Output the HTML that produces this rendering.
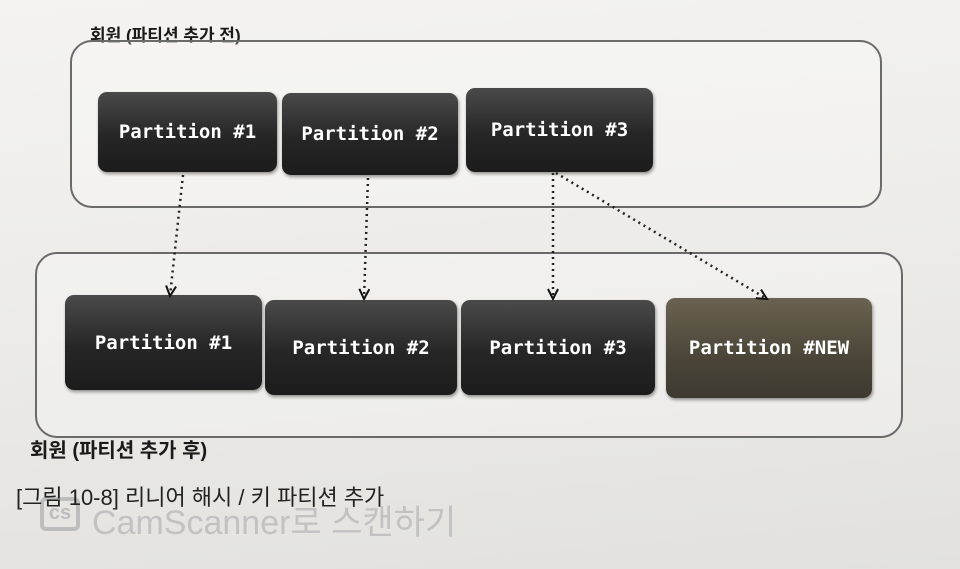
<!DOCTYPE html>
<html><head><meta charset="utf-8"><style>
body{margin:0;width:960px;height:569px;overflow:hidden;background:linear-gradient(175deg,#f4f3f1 0%,#ecebe8 50%,#e2e1de 100%);font-family:"Liberation Sans","Noto Sans CJK KR",sans-serif;position:relative}
.box{position:absolute;border:2px solid #6a6a6a;border-radius:22px;background:rgba(255,255,255,0.25)}
.p{position:absolute;border-radius:9px;background:linear-gradient(180deg,#4a4a4a 0%,#262626 55%,#1c1c1c 100%);color:#fff;font-weight:bold;font-family:"DejaVu Sans Mono","Liberation Mono",monospace;font-size:19px;display:flex;align-items:center;justify-content:center;box-shadow:1px 2px 3px rgba(0,0,0,.4)}
.t{position:absolute;font-weight:bold;color:#1a1a1a;white-space:nowrap}
</style></head><body>
<div class="t" style="left:90px;top:21px;font-size:17px">회원 (파티션 추가 전)</div>
<div class="box" style="left:70px;top:40px;width:808px;height:164px"></div>
<div class="p" style="left:98px;top:92px;width:179px;height:80px">Partition #1</div>
<div class="p" style="left:282px;top:93px;width:176px;height:82px">Partition #2</div>
<div class="p" style="left:466px;top:88px;width:187px;height:84px">Partition #3</div>
<div class="box" style="left:35px;top:252px;width:864px;height:182px"></div>
<div class="p" style="left:65px;top:295px;width:197px;height:95px">Partition #1</div>
<div class="p" style="left:265px;top:300px;width:192px;height:95px">Partition #2</div>
<div class="p" style="left:461px;top:300px;width:194px;height:95px">Partition #3</div>
<div class="p" style="left:666px;top:298px;width:206px;height:100px;background:linear-gradient(180deg,#6a6352 0%,#4a4538 60%,#3e3a30 100%)">Partition #NEW</div>
<svg style="position:absolute;left:0;top:0" width="960" height="569">
<defs><marker id="a" markerUnits="userSpaceOnUse" markerWidth="14" markerHeight="14" refX="11" refY="6" orient="auto"><path d="M1,1 L11,6 L1,11" fill="none" stroke="#111" stroke-width="2"/></marker></defs>
<g stroke="#222" stroke-width="2.5" stroke-dasharray="2,4" fill="none" marker-end="url(#a)">
<line x1="183" y1="175" x2="170" y2="296"/>
<line x1="368" y1="178" x2="364" y2="299"/>
<line x1="553" y1="173" x2="553" y2="299"/>
<line x1="556" y1="173" x2="767" y2="299"/>
</g></svg>
<div class="t" style="left:30px;top:434px;font-size:20px">회원 (파티션 추가 후)</div>
<div style="position:absolute;left:40px;top:497px;width:40px;height:34px;border:4px solid #bdbdbd;border-radius:6px;box-sizing:border-box;color:#bdbdbd;font-size:20px;font-weight:bold;text-align:center;line-height:24px">cs</div>
<div style="position:absolute;left:92px;top:495px;font-size:34px;color:#c2c2c2;white-space:nowrap">CamScanner로 스캔하기</div>
<div style="position:absolute;left:16px;top:480px;font-size:22px;color:#222;white-space:nowrap">[그림 10-8] 리니어 해시 / 키 파티션 추가</div>
</body></html>
